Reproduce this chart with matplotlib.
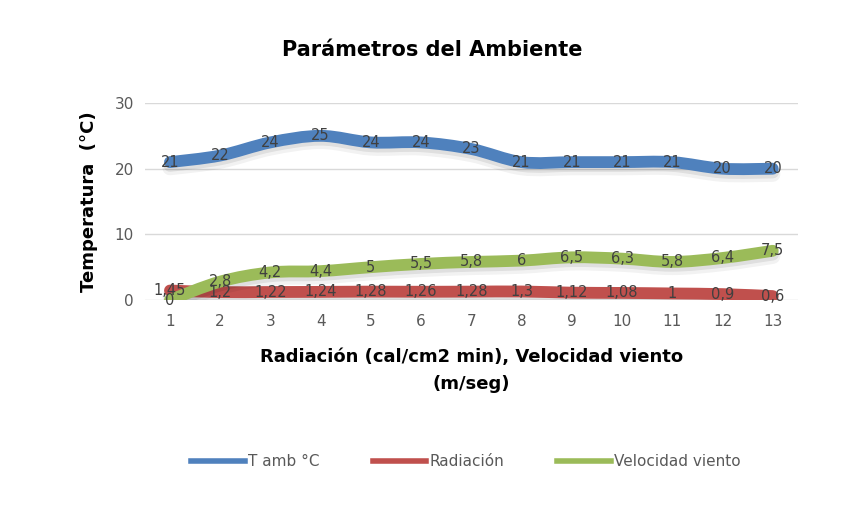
import numpy as np
import matplotlib
matplotlib.use('Agg')
import matplotlib.pyplot as plt
import matplotlib.patheffects as pe
from matplotlib.path import Path
from matplotlib.patches import PathPatch
from matplotlib.lines import Line2D

dias = [1, 2, 3, 4, 5, 6, 7, 8, 9, 10, 11, 12, 13]
t_amb = [21, 22, 24, 25, 24, 24, 23, 21, 21, 21, 21, 20, 20]
radiacion = [1.45, 1.2, 1.22, 1.24, 1.28, 1.26, 1.28, 1.3, 1.12, 1.08, 1, 0.9, 0.6]
viento = [0, 2.8, 4.2, 4.4, 5, 5.5, 5.8, 6, 6.5, 6.3, 5.8, 6.4, 7.5]
nombres = ['T amb °C', 'Radiación', 'Velocidad viento']
colores = ['#4F81BD', '#C0504D', '#9BBB59']

plt.rcParams['font.family'] = ['DejaVu Sans']


def smooth_path(xs, ys):
    # bezier (catmull-rom) through the data points, like excel's smoothed line
    xs = np.asarray(xs, float)
    ys = np.asarray(ys, float)
    verts = [(xs[0], ys[0])]
    codes = [Path.MOVETO]
    n = len(xs)
    for i in range(n - 1):
        p0 = (xs[max(i - 1, 0)], ys[max(i - 1, 0)])
        p1 = (xs[i], ys[i])
        p2 = (xs[i + 1], ys[i + 1])
        p3 = (xs[min(i + 2, n - 1)], ys[min(i + 2, n - 1)])
        c1 = (p1[0] + (p2[0] - p0[0]) / 6, p1[1] + (p2[1] - p0[1]) / 6)
        c2 = (p2[0] - (p3[0] - p1[0]) / 6, p2[1] - (p3[1] - p1[1]) / 6)
        verts += [c1, c2, p2]
        codes += [Path.CURVE4] * 3
    return Path(verts, codes)


fig = plt.figure(figsize=(8.47, 5.31), dpi=100)
ax = fig.add_axes([0.171, 0.435, 0.771, 0.371])

for serie, col in zip([t_amb, radiacion, viento], colores):
    patch = PathPatch(smooth_path(dias, serie), facecolor='none', edgecolor=col,
                      lw=8.5, capstyle='round', joinstyle='round', zorder=3)
    patch.set_path_effects([pe.Stroke(offset=(0, -4), foreground='#000000', alpha=0.05, linewidth=11),
                            pe.Stroke(offset=(0, -2.5), foreground='#000000', alpha=0.08, linewidth=9),
                            pe.Normal()])
    ax.add_patch(patch)

for serie in [t_amb, radiacion, viento]:
    for x, y in zip(dias, serie):
        ax.text(x, y, ('%g' % y).replace('.', ','), ha='center', va='center',
                fontsize=10.5, color='#404040', zorder=5)

ax.set_xlim(0.5, 13.5)
ax.set_ylim(0, 30)
ax.set_xticks(dias)
ax.set_yticks([0, 10, 20, 30])
ax.tick_params(length=0, labelsize=11, labelcolor='#595959', pad=10)
ax.tick_params(axis='y', pad=8)
ax.grid(axis='y', color='#D9D9D9', lw=1)
ax.set_axisbelow(True)
for s in ax.spines.values():
    s.set_visible(False)

ax.set_ylabel('Temperatura  (°C)', fontsize=13, fontweight='bold', color='black', labelpad=12)
ax.set_xlabel('Radiación (cal/cm2 min), Velocidad viento\n(m/seg)', fontsize=13,
              fontweight='bold', color='black', labelpad=14, linespacing=1.6)
fig.text(0.51, 0.905, 'Parámetros del Ambiente', ha='center', va='center',
         fontsize=15, fontweight='bold', color='black')

handles = [Line2D([], [], color=c, lw=4) for c in colores]
fig.legend(handles, nombres, loc='center', bbox_to_anchor=(0.55, 0.13), ncol=3,
           frameon=False, fontsize=11, handlelength=3.5, handletextpad=0.2,
           columnspacing=3.5, labelcolor='#595959')

fig.savefig('out.png', dpi=100)
